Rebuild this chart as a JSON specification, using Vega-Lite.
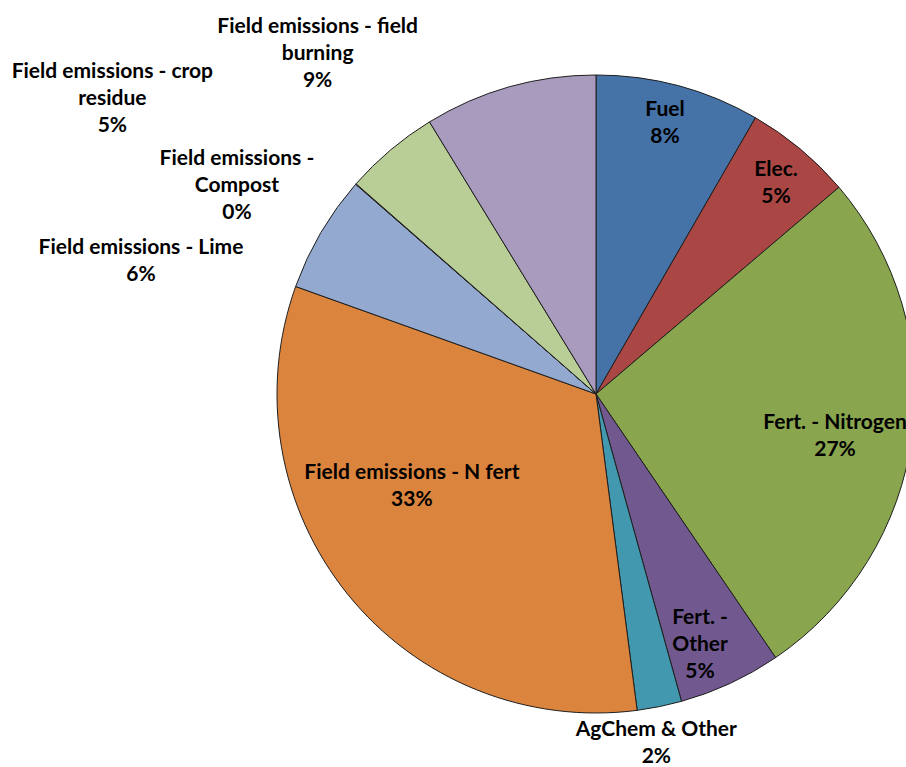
{
  "$schema": "https://vega.github.io/schema/vega-lite/v6.json",
  "width": 1192,
  "height": 788,
  "autosize": "none",
  "padding": 0,
  "background": "white",
  "view": {"stroke": null},
  "data": {
    "values": [
      {"idx": 1, "cat": "Fuel", "value": 8.33, "label": "Fuel|8%"},
      {"idx": 2, "cat": "Elec.", "value": 5.45, "label": "Elec.|5%"},
      {"idx": 3, "cat": "Fert. - Nitrogen", "value": 26.7, "label": "Fert. - Nitrogen|27%"},
      {"idx": 4, "cat": "Fert. - Other", "value": 5.2, "label": "Fert. -|Other|5%"},
      {"idx": 5, "cat": "AgChem & Other", "value": 2.26, "label": "AgChem & Other|2%"},
      {"idx": 6, "cat": "Field emissions - N fert", "value": 32.53, "label": "Field emissions - N fert|33%"},
      {"idx": 7, "cat": "Field emissions - Lime", "value": 5.95, "label": "Field emissions - Lime|6%"},
      {"idx": 8, "cat": "Field emissions - Compost", "value": 0.03, "label": "Field emissions -|Compost|0%"},
      {"idx": 9, "cat": "Field emissions - crop residue", "value": 4.81, "label": "Field emissions - crop|residue|5%"},
      {"idx": 10, "cat": "Field emissions - field burning", "value": 8.74, "label": "Field emissions - field|burning|9%"}
    ]
  },
  "encoding": {
    "theta": {"field": "value", "type": "quantitative", "stack": true},
    "order": {"field": "idx", "type": "quantitative"}
  },
  "layer": [
    {
      "mark": {"type": "arc", "outerRadius": 319, "stroke": "#1e1e1e", "strokeWidth": 1},
      "encoding": {
        "color": {
          "field": "cat",
          "type": "nominal",
          "legend": null,
          "scale": {
            "domain": ["Fuel", "Elec.", "Fert. - Nitrogen", "Fert. - Other", "AgChem & Other", "Field emissions - N fert", "Field emissions - Lime", "Field emissions - Compost", "Field emissions - crop residue", "Field emissions - field burning"],
            "range": ["#4572A7", "#AA4643", "#89A54E", "#71588F", "#4198AF", "#DB843D", "#93A9CF", "#D19392", "#B9CD96", "#A99BBD"]
          }
        }
      }
    },
    {
      "mark": {"type": "text", "radius": 279.6, "thetaOffset": -0.0122, "dy": -13.5, "font": "Lato", "fontWeight": "bold", "fontSize": 21, "lineBreak": "|", "lineHeight": 27, "align": "center", "baseline": "middle", "color": "black"},
      "encoding": {"detail": {"field": "cat"}, "text": {"condition": {"test": "datum.cat === 'Fuel'", "field": "label"}, "value": ""}}
    },
    {
      "mark": {"type": "text", "radius": 276.6, "thetaOffset": 0.014, "dy": -13.5, "font": "Lato", "fontWeight": "bold", "fontSize": 21, "lineBreak": "|", "lineHeight": 27, "align": "center", "baseline": "middle", "color": "black"},
      "encoding": {"detail": {"field": "cat"}, "text": {"condition": {"test": "datum.cat === 'Elec.'", "field": "label"}, "value": ""}}
    },
    {
      "mark": {"type": "text", "radius": 242.7, "thetaOffset": 0.0401, "dy": -13.5, "font": "Lato", "fontWeight": "bold", "fontSize": 21, "lineBreak": "|", "lineHeight": 27, "align": "center", "baseline": "middle", "color": "black"},
      "encoding": {"detail": {"field": "cat"}, "text": {"condition": {"test": "datum.cat === 'Fert. - Nitrogen'", "field": "label"}, "value": ""}}
    },
    {
      "mark": {"type": "text", "radius": 271.7, "thetaOffset": 0.0419, "dy": -27, "font": "Lato", "fontWeight": "bold", "fontSize": 21, "lineBreak": "|", "lineHeight": 27, "align": "center", "baseline": "middle", "color": "black"},
      "encoding": {"detail": {"field": "cat"}, "text": {"condition": {"test": "datum.cat === 'Fert. - Other'", "field": "label"}, "value": ""}}
    },
    {
      "mark": {"type": "text", "radius": 355, "thetaOffset": 0.0297, "dy": -13.5, "font": "Lato", "fontWeight": "bold", "fontSize": 21, "lineBreak": "|", "lineHeight": 27, "align": "center", "baseline": "middle", "color": "black"},
      "encoding": {"detail": {"field": "cat"}, "text": {"condition": {"test": "datum.cat === 'AgChem & Other'", "field": "label"}, "value": ""}}
    },
    {
      "mark": {"type": "text", "radius": 206.2, "thetaOffset": 0.2112, "dy": -13.5, "font": "Lato", "fontWeight": "bold", "fontSize": 21, "lineBreak": "|", "lineHeight": 27, "align": "center", "baseline": "middle", "color": "black"},
      "encoding": {"detail": {"field": "cat"}, "text": {"condition": {"test": "datum.cat === 'Field emissions - N fert'", "field": "label"}, "value": ""}}
    },
    {
      "mark": {"type": "text", "radius": 473.8, "thetaOffset": -0.2478, "dy": -13.5, "font": "Lato", "fontWeight": "bold", "fontSize": 21, "lineBreak": "|", "lineHeight": 27, "align": "center", "baseline": "middle", "color": "black"},
      "encoding": {"detail": {"field": "cat"}, "text": {"condition": {"test": "datum.cat === 'Field emissions - Lime'", "field": "label"}, "value": ""}}
    },
    {
      "mark": {"type": "text", "radius": 414.9, "thetaOffset": -0.1937, "dy": -27, "font": "Lato", "fontWeight": "bold", "fontSize": 21, "lineBreak": "|", "lineHeight": 27, "align": "center", "baseline": "middle", "color": "black"},
      "encoding": {"detail": {"field": "cat"}, "text": {"condition": {"test": "datum.cat === 'Field emissions - Compost'", "field": "label"}, "value": ""}}
    },
    {
      "mark": {"type": "text", "radius": 566.5, "thetaOffset": -0.3229, "dy": -27, "font": "Lato", "fontWeight": "bold", "fontSize": 21, "lineBreak": "|", "lineHeight": 27, "align": "center", "baseline": "middle", "color": "black"},
      "encoding": {"detail": {"field": "cat"}, "text": {"condition": {"test": "datum.cat === 'Field emissions - crop residue'", "field": "label"}, "value": ""}}
    },
    {
      "mark": {"type": "text", "radius": 439.2, "thetaOffset": -0.4119, "dy": -27, "font": "Lato", "fontWeight": "bold", "fontSize": 21, "lineBreak": "|", "lineHeight": 27, "align": "center", "baseline": "middle", "color": "black"},
      "encoding": {"detail": {"field": "cat"}, "text": {"condition": {"test": "datum.cat === 'Field emissions - field burning'", "field": "label"}, "value": ""}}
    }
  ]
}
